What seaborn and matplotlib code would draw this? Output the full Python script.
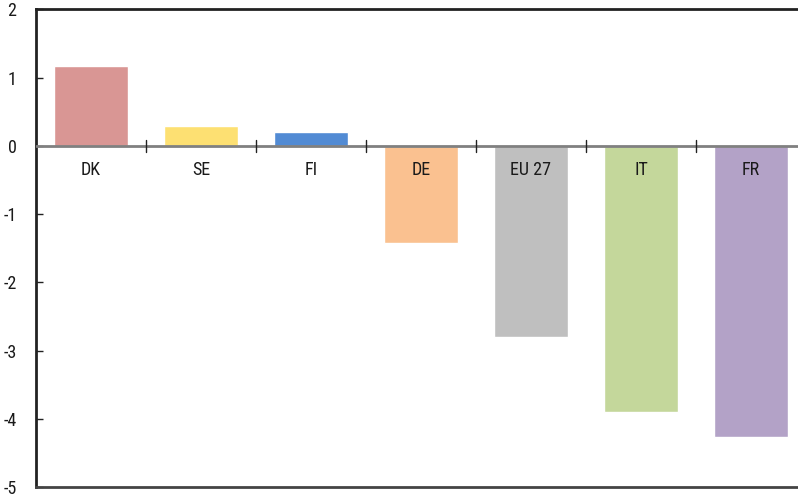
import matplotlib
matplotlib.use("Agg")
import matplotlib.pyplot as plt
from matplotlib import font_manager
import seaborn as sns
import pandas as pd

countries = ["DK", "SE", "FI", "DE", "EU 27", "IT", "FR"]
values = [1.17, 0.29, 0.20, -1.42, -2.80, -3.90, -4.27]
colors = ["#D99694", "#FDE072", "#528BD4", "#FAC190", "#BFBFBF", "#C4D79B", "#B3A2C7"]
y_ticks = [-5, -4, -3, -2, -1, 0, 1, 2]

sns.set_theme(style="white")

# pick a condensed face when one is installed
available = {f.name for f in font_manager.fontManager.ttflist}
family = "DejaVu Sans"
for cand in ["Liberation Sans Narrow", "Roboto Condensed", "Open Sans Condensed", "Noto Sans"]:
    if cand in available:
        family = cand
        break
plt.rcParams["font.family"] = [family, "DejaVu Sans"]

df = pd.DataFrame({"country": countries, "value": values})

W, H = 798, 497
fig = plt.figure(figsize=(W / 100, H / 100), dpi=100)
ax = fig.add_axes([36 / W, 10 / H, 770 / W, (487 - 9.3) / H])

sns.barplot(data=df, x="country", y="value", hue="country", palette=colors,
            order=countries, hue_order=countries, legend=False,
            width=0.673, saturation=1, ax=ax, zorder=2)

ax.set_xlim(-0.5, len(countries) - 0.5)
ax.set_ylim(-5, 2)
ax.set_yticks(y_ticks)
ax.set_yticklabels([str(t) for t in y_ticks])
ax.set_xlabel("")
ax.set_ylabel("")
ax.set_xticks([])

# zero line with category separators
ax.axhline(0, color="#808080", lw=2, zorder=3)
for i in range(1, len(countries)):
    ax.plot([i - 0.5, i - 0.5], [-0.09, 0.09], color="#222222", lw=1, zorder=4)

# category labels just below the zero line
for i, c in enumerate(countries):
    ax.text(i, -0.36, c, ha="center", va="center", fontsize=13, color="#1a1a1a", zorder=5)

ax.tick_params(axis="y", direction="in", length=5, width=1, color="#222222",
               labelsize=13, labelcolor="#1a1a1a", pad=14, left=True)
for side in ["left", "top"]:
    ax.spines[side].set_color("#222222")
    ax.spines[side].set_linewidth(2)
ax.spines["bottom"].set_color("#444444")
ax.spines["bottom"].set_linewidth(2)
ax.spines["right"].set_visible(False)

fig.savefig("out.png", dpi=100)
